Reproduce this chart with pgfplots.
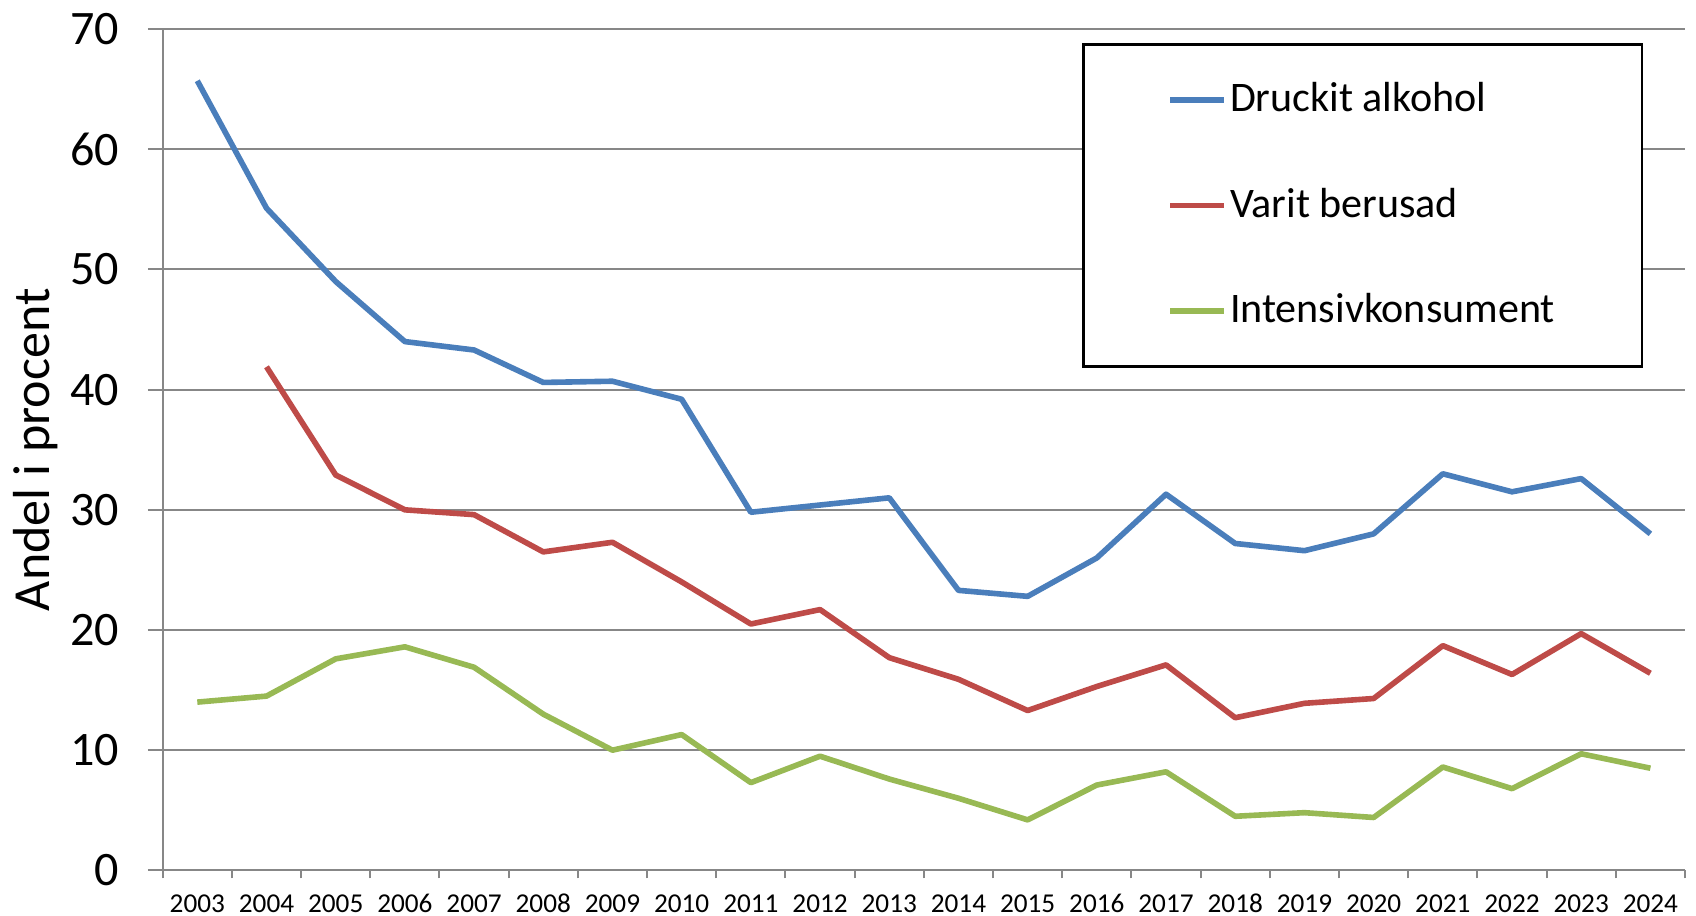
\documentclass[border=0pt]{standalone}
\usepackage{fontspec}
\setmainfont{Carlito}
\usepackage{pgfplots}
\pgfplotsset{compat=1.18}
\definecolor{cblue}{HTML}{4A7EBB}
\definecolor{cred}{HTML}{BE4B48}
\definecolor{cgreen}{HTML}{98B954}
\definecolor{gridgray}{HTML}{878787}

\begin{document}
\begin{tikzpicture}
\begin{axis}[
    scale only axis,
    width=380pt, height=210pt,
    xmin=-0.5, xmax=21.5,
    ymin=0, ymax=70,
    axis x line*=bottom, axis y line*=left,
    axis line style={gridgray, line width=0.5pt},
    xtick={0,...,21},
    xticklabels={2003,2004,2005,2006,2007,2008,2009,2010,2011,2012,2013,2014,2015,2016,2017,2018,2019,2020,2021,2022,2023,2024},
    major x tick style={draw=none},
    minor xtick={-0.5,0.5,...,21.5},
    minor x tick style={gridgray, line width=0.5pt},
    minor tick length=2pt,
    ytick={0,10,...,70},
    major tick length=3.7pt,
    y tick style={gridgray, line width=0.5pt},
    tick align=outside,
    ymajorgrids,
    grid style={gridgray, line width=0.5pt},
    /pgf/number format/assume math mode=true,
    yticklabel style={font=\fontsize{12}{14}\selectfont, xshift=-3.6pt},
    xticklabel style={font=\fontsize{6.8}{8}\selectfont, inner sep=0pt, text height=4.4pt, text depth=0pt, yshift=-2.1pt},
    ylabel={Andel i procent},
    ylabel style={font=\fontsize{13}{15}\selectfont, yshift=-3.7pt},
    legend cell align=left,
    legend style={at={(0.604,0.983)}, anchor=north west, draw=black, line width=0.6pt,
        font=\fontsize{10.5}{12}\selectfont, inner xsep=21pt, inner ysep=7.5pt,
        row sep=13.5pt, nodes={inner xsep=0.7pt}},
    legend image code/.code={\draw[#1, line width=1.4pt] (0pt,0pt) -- (13.5pt,0pt);},
    every axis plot/.append style={line width=1.4pt, line join=round},
]
\addplot[cblue, no marks] coordinates {
(0,65.7) (1,55.1) (2,49.0) (3,44.0) (4,43.3) (5,40.6) (6,40.7) (7,39.2)
(8,29.8) (9,30.4) (10,31.0) (11,23.3) (12,22.8) (13,26.0) (14,31.3) (15,27.2)
(16,26.6) (17,28.0) (18,33.0) (19,31.5) (20,32.6) (21,28.0)
};
\addlegendentry{Druckit alkohol}
\addplot[cred, no marks] coordinates {
(1,41.9) (2,32.9) (3,30.0) (4,29.6) (5,26.5) (6,27.3) (7,24.0)
(8,20.5) (9,21.7) (10,17.7) (11,15.9) (12,13.3) (13,15.3) (14,17.1) (15,12.7)
(16,13.9) (17,14.3) (18,18.7) (19,16.3) (20,19.7) (21,16.4)
};
\addlegendentry{Varit berusad}
\addplot[cgreen, no marks] coordinates {
(0,14.0) (1,14.5) (2,17.6) (3,18.6) (4,16.9) (5,13.0) (6,10.0) (7,11.3)
(8,7.3) (9,9.5) (10,7.6) (11,6.0) (12,4.2) (13,7.1) (14,8.2) (15,4.5)
(16,4.8) (17,4.4) (18,8.6) (19,6.8) (20,9.7) (21,8.5)
};
\addlegendentry{Intensivkonsument}
\coordinate (bl) at (axis description cs:0.5,0);
\end{axis}
\path ([xshift=2.75pt]current axis.east);
\path ([xshift=-1.1pt]current axis.west);
\path (bl) ++(0,-11.2pt);
\end{tikzpicture}
\end{document}
